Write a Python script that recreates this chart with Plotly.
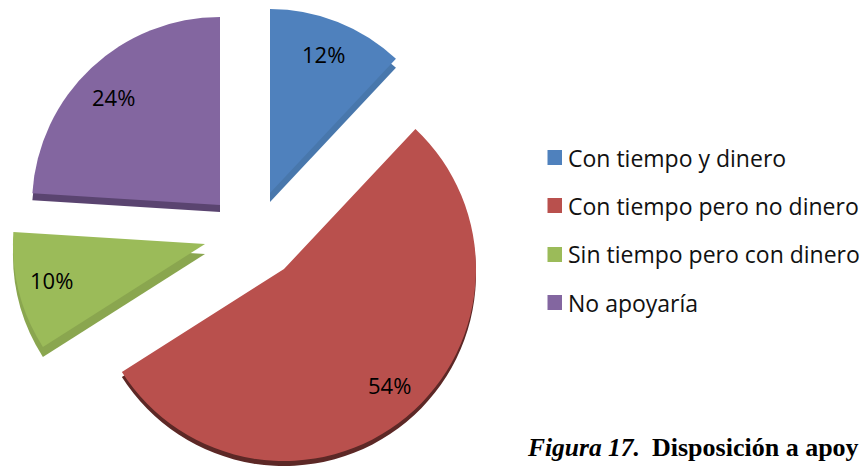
import plotly.graph_objects as go

categorias = ['Con tiempo y dinero', 'Con tiempo pero no dinero', 'Sin tiempo pero con dinero', 'No apoyaría']
porcentajes = [12, 54, 10, 24]
colores = ['#4F81BD', '#B9504D', '#9BBB59', '#8366A0']
colores_lado = ['#4877AC', '#5C2826', '#8AA64F', '#5A4470']
etiquetas = ['12%', '54%', '10%', '24%']

W, H = 864, 468
# centro y radio de cada porcion en pixeles, mas el grosor del lado
centros = [(270, 193, 184, 9), (284, 269, 192, 5), (205, 244, 192, 10), (220, 205, 188, 7)]
pos_etiquetas = [(323, 54), (389, 385), (51, 280), (113, 97)]
filas_leyenda = [157.5, 205.5, 254.5, 302.5]


def dominio(cx, cy, r):
    return dict(x=[(cx - r) / W, (cx + r) / W], y=[1 - (cy + r) / H, 1 - (cy - r) / H])


def porcion(valor, inicio, color, cx, cy, r, nombre):
    return go.Pie(
        values=[valor, 100 - valor],
        labels=[nombre, ''],
        sort=False,
        direction='clockwise',
        rotation=inicio,
        domain=dominio(cx, cy, r),
        marker=dict(colors=[color, 'rgba(0,0,0,0)'], line=dict(width=0)),
        textinfo='none',
        hoverinfo='skip',
        showlegend=False,
    )


fig = go.Figure()

inicio = 0
for i, v in enumerate(porcentajes):
    cx, cy, r, lado = centros[i]
    ang = inicio * 3.6
    fig.add_trace(porcion(v, ang, colores_lado[i], cx, cy + lado, r, categorias[i]))
    fig.add_trace(porcion(v, ang, colores[i], cx, cy, r, categorias[i]))
    inicio += v

anotaciones = []
for txt, (x, y) in zip(etiquetas, pos_etiquetas):
    anotaciones.append(dict(x=x / W, y=1 - y / H, text=txt, showarrow=False, xref='paper', yref='paper',
                            xanchor='center', yanchor='middle', font=dict(family='Open Sans', size=22, color='#000000')))

formas = []
for nombre, color, y in zip(categorias, colores, filas_leyenda):
    formas.append(dict(type='rect', xref='paper', yref='paper', x0=547.5 / W, x1=562 / W,
                       y0=1 - (y + 7.5) / H, y1=1 - (y - 7.5) / H, fillcolor=color, line=dict(width=0)))
    anotaciones.append(dict(x=566 / W, y=1 - y / H, text=nombre, showarrow=False, xref='paper', yref='paper',
                            xanchor='left', yanchor='middle', font=dict(family='Open Sans', size=23, color='#111111')))

anotaciones.append(dict(x=525 / W, y=1 - 447 / H, text='<b><i>Figura 17.</i></b>', showarrow=False,
                        xref='paper', yref='paper', xanchor='left', yanchor='middle',
                        font=dict(family='Liberation Serif', size=25.5, color='#000000')))
anotaciones.append(dict(x=650 / W, y=1 - 447 / H, text='<b>Disposición a apoy</b>', showarrow=False,
                        xref='paper', yref='paper', xanchor='left', yanchor='middle',
                        font=dict(family='Liberation Serif', size=26, color='#000000')))

fig.update_layout(
    width=W, height=H,
    margin=dict(l=0, r=0, t=0, b=0),
    paper_bgcolor='white',
    showlegend=False,
    annotations=anotaciones,
    shapes=formas,
)

# sin el margen por defecto de la pagina
fig.write_html('out.html', post_script="document.body.style.margin='0';", config=dict(displayModeBar=False))
